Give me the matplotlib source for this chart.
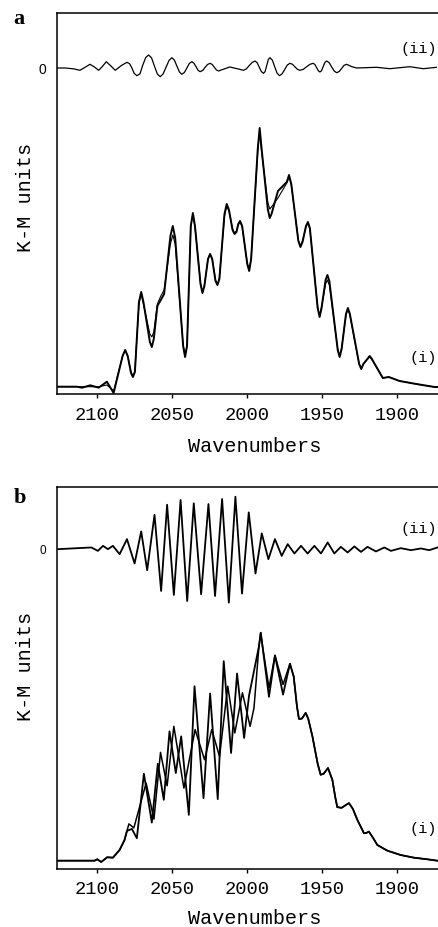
import matplotlib
matplotlib.use('Agg')
from matplotlib import pyplot as plt
import numpy as np

# ---- panel a : spectrum (i), data and fit, and difference (ii) ----
a_wn = [2127, 2113.7, 2110.3, 2104.8, 2099.2, 2093.7, 2089.2,
        2083.2, 2081.5, 2079.8, 2077.6, 2076.3, 2075, 2072.3, 2070.8, 2069.3,
        2065, 2063.7, 2062.4, 2060, 2057.7, 2055.5, 2051.3, 2049.7, 2048.1,
        2042.8, 2041.5, 2040.2, 2037.7, 2036.3, 2034.9, 2031.2, 2029.9, 2028.6,
        2026.2, 2024.8, 2023.4, 2021.2, 2019.9, 2018.6, 2015.2, 2013.7, 2012.2,
        2009.8, 2008.5, 2007.2, 2006, 2004.8, 2003.4, 2000, 1998.7, 1997.4,
        1993, 1991.7, 1990.4, 1986.3, 1985, 1983.8, 1979.5, 1973.6, 1972.1, 1970.6,
        1965.9, 1964.5, 1963.1, 1960.8, 1959.5, 1958.2, 1953, 1951.7, 1950.4,
        1947.7, 1946.5, 1945.2, 1939.6, 1938.3, 1937, 1934.1, 1932.8, 1931.5,
        1925.3, 1923.9, 1922.5, 1919.6, 1918.3, 1917, 1909.5, 1905.5, 1898.3, 1887.2, 1875, 1872]
a_data = [7.3, 7.3, 6.3, 8.7, 6.3, 12.3, 1,
          38, 44, 38, 21, 17, 22, 92, 102, 92,
          52, 47, 55, 88, 94, 100, 158, 168, 156,
          48, 37, 48, 168, 181, 168, 110, 101, 108,
          135, 140, 135, 113, 109, 115, 180, 190, 184,
          164, 160, 162, 170, 173, 168, 130, 123, 135,
          245, 266, 245, 185, 176, 180, 203, 212, 219, 210,
          153, 147, 152, 168, 172, 166, 86, 77, 86,
          114, 119, 113, 44, 37, 45, 80, 86, 80,
          30, 25, 30, 35.5, 38, 35.5, 16, 17, 13, 10, 7, 7]
a_fit = [7.3, 7.3, 7.3, 7.3, 7.3, 9, 3,
         38, 44, 38, 22, 18, 23, 90, 100, 90,
         60, 57, 62, 90, 98, 104, 150, 159, 150,
         49, 38, 49, 167, 180, 167, 111, 102, 109,
         135, 140, 135, 114, 110, 116, 178, 188, 183,
         165, 161, 163, 169, 172, 167, 131, 124, 136,
         242, 262, 242, 192, 185, 187, 196, 211, 217, 209,
         154, 148, 153, 167, 171, 165, 87, 78, 87,
         110, 114, 109, 45, 38, 46, 79, 85, 79,
         30, 26, 30, 35, 37, 35, 16, 17, 13, 10, 7, 7]

a_diff_wn = [2127, 2121.7, 2116, 2111.7, 2108.5, 2105, 2102, 2099.2, 2097, 2094.1,
             2091, 2088.1, 2084, 2080.3, 2078.5, 2077, 2075.5, 2073.7, 2071.6, 2069.8,
             2067.8, 2065.9, 2063.9, 2062, 2060, 2058.1, 2056.2, 2054.2, 2052.2, 2050.3,
             2048.6, 2047, 2045.3, 2043.7, 2042, 2040.3, 2038.7, 2037, 2035.6, 2034.2,
             2032.9, 2031.5, 2029.8, 2028.2, 2026.5, 2024.8, 2023.4, 2022, 2020.6, 2019.2,
             2015.5, 2011.7, 2005.9, 2002.5, 2000.6, 1998.7, 1996.7, 1994.8, 1993.4, 1992,
             1990.6, 1989.2, 1988.1, 1987, 1985.9, 1984.8, 1983.2, 1981.7, 1980.1, 1978.5,
             1976.8, 1975, 1973.3, 1971.5, 1969.8, 1968.2, 1966.5, 1964.8, 1962.6, 1960.4,
             1958.1, 1955.9, 1954.8, 1953.7, 1952.6, 1951.5, 1950.4, 1949.3, 1948.1, 1947,
             1945.3, 1943.7, 1942, 1940.3, 1938.6, 1937, 1935.4, 1933.7, 1930.5, 1927,
             1913.7, 1904.8, 1891.5, 1882.5, 1873.7]
a_diff = [0, 0, -0.8, -2.3, 0.5, 3.7, 1, -2.3, 1, 6.3,
          2, -2.3, 2.5, 5.7, 4.2, 0, -5.3, -7.7, -5.8, 2.6,
          10.4, 13, 10.2, 2.1, -6.1, -8.7, -6, 0.8, 7.6, 10.3,
          7.8, 2, -3.9, -6.3, -4.5, 0, 4.5, 6.3, 4.8, 1.3,
          -2.2, -3.7, -2.5, 0.5, 3.5, 4.7, 3.5, 0.8, -1.9, -3,
          -1, 1, -1, -2.3, -0.9, 2.4, 5.6, 7, 5.3, 0.9,
          -3.5, -5.3, -3.6, 2.5, 8.6, 10.3, 7.7, 1.3, -5.1, -7.7,
          -5.9, -1.5, 2.9, 4.7, 3.7, 1.2, -1.3, -2.3, -1.3, 1.2,
          3.7, 4.7, 3.4, 0.4, -2.7, -4, -2.7, 1.5, 5.7, 7,
          5.3, 1.2, -3, -4.7, -3.5, -0.5, 2.6, 3.7, 1.5, 0,
          0.7, -0.7, 1.3, -0.7, 0.7]
a_zero = 326

# ---- panel b ----
b_wn1 = [2127, 2101.9, 2100.1, 2097.5, 2093.5, 2089.7, 2085.2, 2081.9, 2079, 2075.7,
         2067.5, 2062.3, 2057.9, 2053.5, 2049, 2042.3, 2034.8, 2028.5, 2023.7, 2018.5,
         2013, 2008.3, 2003.2, 1998.1, 1995.5, 1992.2, 1991, 1989.8, 1985.5, 1981.5,
         1976.1, 1971.5, 1969, 1966.8, 1965.5, 1963.5, 1961, 1959.3, 1956.5, 1953,
         1951, 1949, 1946.1, 1943.2, 1941.3, 1939.9, 1937, 1934, 1932.1, 1929.5,
         1926.5, 1922.1, 1920.5, 1918.8, 1916, 1913.2, 1906.5, 1897.7, 1888.8, 1879.9,
         1873.2]
b_fit = [8.3, 8.3, 9.7, 7, 11.7, 11.3, 19, 29, 45, 41,
         85.7, 49.7, 116.3, 83, 142.3, 80.7, 139, 109, 139, 112.3,
         182.3, 135.7, 175.7, 142.3, 160.7, 222, 235.7, 222, 180.7, 213,
         184, 204.7, 192, 162, 149.7, 150, 155.7, 150, 132.3, 105,
         94, 95, 100.7, 89, 72, 61.7, 61, 64, 65.7, 60,
         49, 35.7, 36, 37.3, 31, 24, 18.3, 14, 11.3, 9.7,
         8.3]

b_wn2 = [2127, 2101.9, 2100.1, 2097.5, 2093.5, 2089.7, 2085.2, 2081.9, 2080.3, 2077,
         2073.7, 2069, 2063.7, 2059.7, 2055.7, 2051.9, 2047.7, 2044.1, 2039, 2035.2,
         2029.2, 2024.8, 2019.7, 2015.7, 2010.8, 2006.8, 2002.1, 1998.8, 1992.2, 1991,
         1989.8, 1985.5, 1981.5, 1976.1, 1971.5, 1969, 1966.8, 1965.5, 1963.5, 1961,
         1959.3, 1956.5, 1953, 1951, 1949, 1946.1, 1943.2, 1941.3, 1939.9, 1937,
         1934, 1932.1, 1929.5, 1926.5, 1922.1, 1920.5, 1918.8, 1916, 1913.2, 1906.5,
         1897.7, 1888.8, 1879.9, 1873.2]
b_data = [8.3, 8.3, 9.7, 7, 11.7, 11.3, 19, 29, 38, 40,
          30.7, 95, 46.3, 105, 69, 137.3, 95.7, 132.3, 54, 182.3,
          70.7, 175, 69.7, 207.3, 115.7, 195, 130.7, 173, 222, 235.7,
          222, 171.7, 213, 174, 204.7, 192, 162, 149.7, 150, 155.7,
          150, 132.3, 105, 94, 95, 100.7, 89, 72, 61.7, 61,
          64, 65.7, 60, 49, 35.7, 36, 37.3, 31, 24, 18.3,
          14, 11.3, 9.7, 8.3]

b_diff_wn = [2126.3, 2104.1, 2099.7, 2096.3, 2093, 2089.7, 2085.2, 2080.3, 2075.2, 2070.8,
             2066.8, 2061.9, 2057.5, 2053.5, 2049, 2044.5, 2040.1, 2035.7, 2030.8, 2025.9,
             2021.5, 2016.8, 2012.3, 2007.9, 2003.5, 1999, 1994.5, 1990.3, 1985.9, 1981.5,
             1977, 1973, 1968.5, 1964.1, 1959.7, 1955.2, 1950.8, 1946.3, 1941.9, 1937.5,
             1933, 1928.5, 1924.1, 1919.7, 1914.1, 1908.5, 1904.1, 1897.5, 1890.8, 1884.1,
             1878.5, 1873]
b_diff = [0, 1.7, -1.7, 3.3, 0, 3.3, -5, 10, -14.3, 17.7,
          -21, 34.3, -41.7, 44.3, -45.7, 49, -51.7, 45.7, -45, 45,
          -46.7, 50, -53.3, 52.3, -44.3, 36.7, -24.3, 15.7, -10, 10,
          -6.7, 5, -4.3, 3.3, -4.3, 3.3, -4.3, 6.7, -4.3, 2.3,
          -3.3, 2.7, -2.7, 2.3, -2.3, 1.7, -1.7, 1, -1, 0.7,
          -1, 1.7]
b_zero = 319

xticks = [2100, 2050, 2000, 1950, 1900]

W, H = 439, 927
mono = 'Liberation Mono'
fig = plt.figure(figsize=(W / 100, H / 100), dpi=100)


def setup(ax, zero, zsize):
    ax.set_xlim(2127, 1872)
    ax.set_ylim(0, 381)
    ax.spines['right'].set_visible(False)
    for s in ['left', 'top', 'bottom']:
        ax.spines[s].set_linewidth(1.1)
    ax.set_xticks(xticks)
    ax.set_xticklabels([str(t) for t in xticks], fontfamily=mono, fontsize=13.5)
    ax.tick_params(axis='x', direction='out', length=3, width=1, pad=6)
    ax.set_yticks([zero])
    ax.set_yticklabels(['0'], fontfamily='Liberation Sans', fontsize=zsize)
    ax.tick_params(axis='y', length=0, pad=8)


def px(x, y):
    return x / W, 1 - y / H


# panel a
ax = fig.add_axes([57 / W, 1 - 394 / H, 1 - 57 / W, 381 / H])
setup(ax, a_zero, 10)
ax.plot(a_wn, a_fit, color='black', lw=0.8, solid_joinstyle='round')
ax.plot(a_wn, a_data, color='black', lw=1.4, solid_joinstyle='round')
ax.plot(a_diff_wn, np.array(a_diff) + a_zero, color='black', lw=0.9, solid_joinstyle='round')

# panel b
bx = fig.add_axes([57 / W, 1 - 869 / H, 1 - 57 / W, 382 / H])
setup(bx, b_zero, 8.5)
bx.plot(b_wn1, b_fit, color='black', lw=1.1, solid_joinstyle='round')
bx.plot(b_wn2, b_data, color='black', lw=1.3, solid_joinstyle='round')
bx.plot(b_diff_wn, np.array(b_diff) + b_zero, color='black', lw=1.3, solid_joinstyle='round')

# labels
fig.text(*px(19, 19), 'a', fontfamily='Liberation Serif', fontweight='bold',
         fontsize=16, ha='center', va='center')
fig.text(*px(20, 498), 'b', fontfamily='Liberation Serif', fontweight='bold',
         fontsize=16, ha='center', va='center')
fig.text(*px(26, 197), 'K-M units', fontfamily=mono, fontsize=14.5,
         rotation=90, ha='center', va='center')
fig.text(*px(26, 666), 'K-M units', fontfamily=mono, fontsize=14.5,
         rotation=90, ha='center', va='center')

fig.text(*px(255, 447), 'Wavenumbers', fontfamily=mono, fontsize=14.5, ha='center', va='center')
fig.text(*px(255, 919), 'Wavenumbers', fontfamily=mono, fontsize=14.5, ha='center', va='center')

fig.text(*px(437, 49), '(ii)', fontfamily=mono, fontsize=11, ha='right', va='center')
fig.text(*px(437, 358), '(i)', fontfamily=mono, fontsize=11, ha='right', va='center')
fig.text(*px(437, 529), '(ii)', fontfamily=mono, fontsize=11, ha='right', va='center')
fig.text(*px(437, 829), '(i)', fontfamily=mono, fontsize=11, ha='right', va='center')

fig.savefig('out.png', dpi=100)
